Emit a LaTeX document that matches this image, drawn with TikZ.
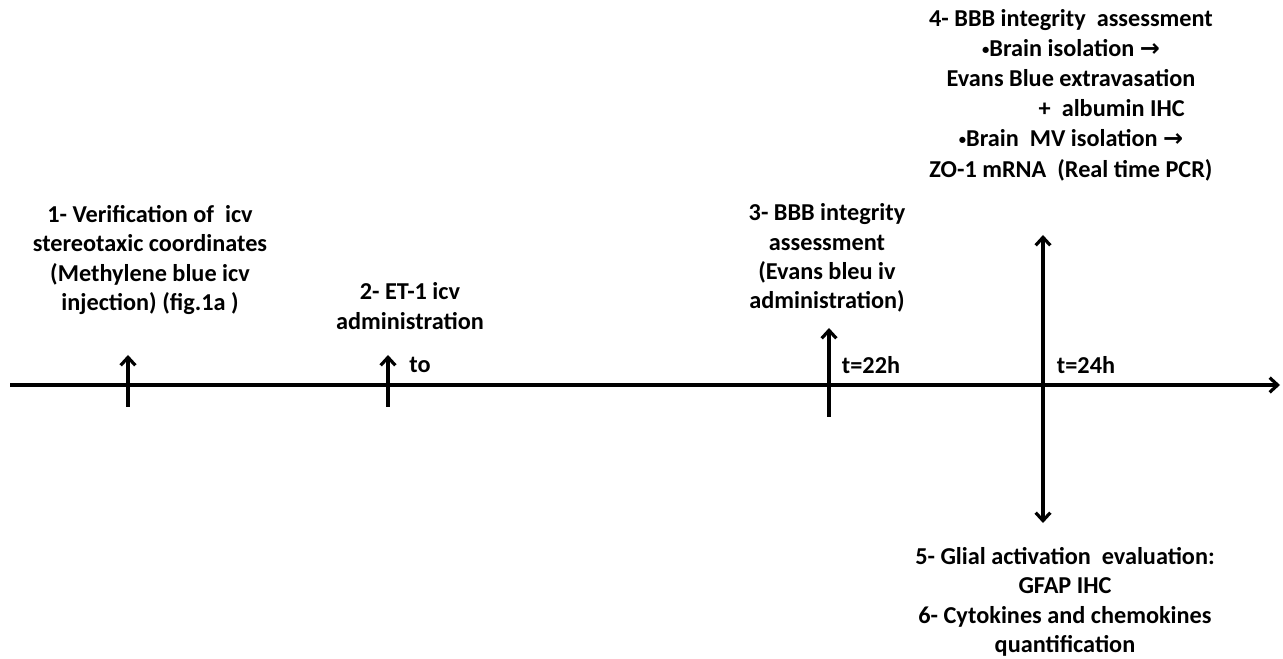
\documentclass[tikz,border=0pt]{standalone}
\usepackage{fontspec}
\setmainfont{Carlito}
\newfontfamily\arrowfont{DejaVu Sans}
\usetikzlibrary{arrows.meta}
\newcommand{\thento}{{\arrowfont\bfseries\fontsize{18}{22}\selectfont →}}
\newcommand{\dotitem}{\raisebox{1.5pt}{\fontsize{11}{22}\selectfont •}}

\begin{document}
\begin{tikzpicture}[x=0.75pt,y=-0.75pt,>={Straight Barb[length=6pt,width=11pt]},
        every node/.style={font=\fontsize{18.2}{22}\selectfont\bfseries},
        phase/.style={align=center,inner sep=0pt},
        timeline/.style={line width=2.4pt}]
    \useasboundingbox (0,0) rectangle (1283,659);

    \coordinate (start) at (10,385);
    \coordinate (end) at (1280,385);
    \draw[timeline,->] (start) -- (end);

    \coordinate (v1b) at (128,407);
    \coordinate (v1t) at (128,355);
    \coordinate (v2b) at (388,407);
    \coordinate (v2t) at (388,355);
    \coordinate (v3b) at (829,417);
    \coordinate (v3t) at (829,328);
    \coordinate (v4t) at (1043,235);
    \coordinate (v4b) at (1043,523);
    \draw[timeline,->] (v1b) -- (v1t);
    \draw[timeline,->] (v2b) -- (v2t);
    \draw[timeline,->] (v3b) -- (v3t);
    \draw[timeline,<->] (v4b) -- (v4t);

    \node[inner sep=0pt] (tzero) at (420,365) {to};
    \node[inner sep=0pt] (t22) at (871,365) {t=22h};
    \node[inner sep=0pt] (t24) at (1086,365) {t=24h};

    \node[phase] (verif) at (150,260) {1- Verification of~~icv\\
        stereotaxic coordinates\\(Methylene blue icv\\injection) (fig.1a )};
    \node[phase] (etone) at (410,306) {2- ET-1 icv\\administration};
    \node[phase] (bbbiv) at (827,258) {3- BBB integrity\\assessment\\
        (Evans bleu iv\\administration)};
    \node[phase,font=\fontsize{18.2}{22.6}\selectfont\bfseries] (bbbiso) at (1071,95)
        {4- BBB integrity~~assessment\\
        \dotitem Brain isolation \thento\\
        Evans Blue extravasation\\
        \hspace*{61pt}+~~albumin IHC\\
        \dotitem Brain~~MV isolation \thento\\
        ZO-1 mRNA~~(Real time PCR)};
    \node[phase] (glial) at (1065,602) {5- Glial activation~~evaluation:\\
        GFAP IHC\\6- Cytokines and chemokines\\quantification};
\end{tikzpicture}
\end{document}
